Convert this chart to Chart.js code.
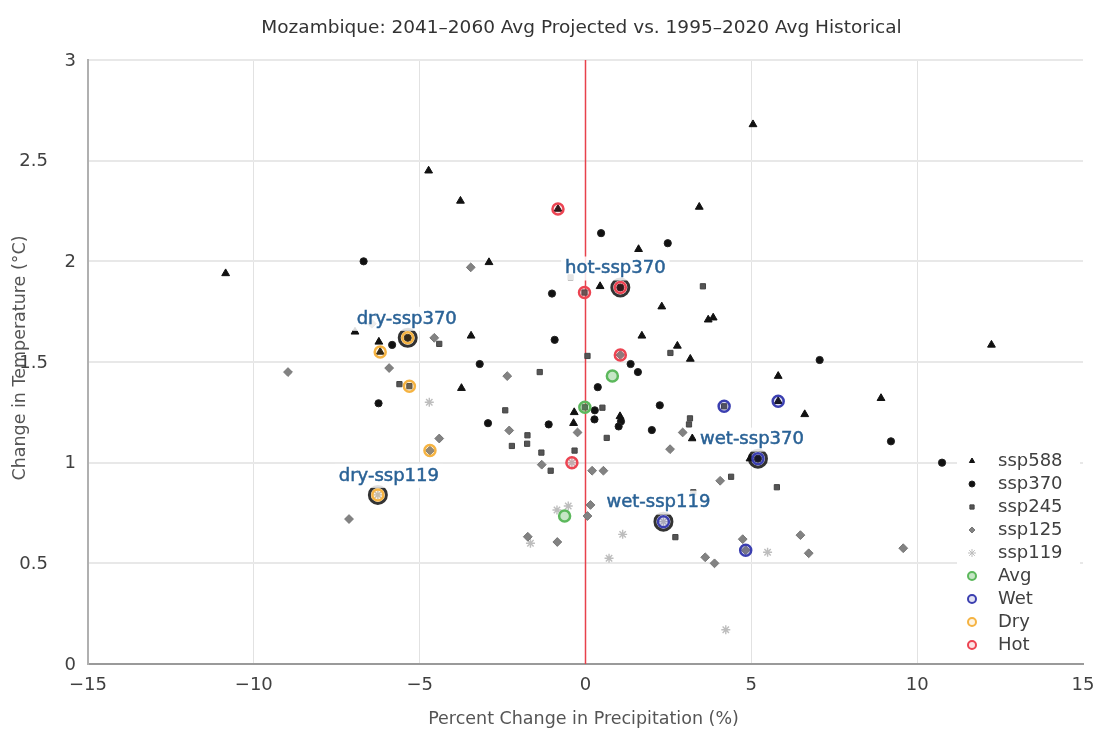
<!DOCTYPE html>
<html><head><meta charset="utf-8">
<script src="https://cdn.jsdelivr.net/npm/chart.js@4.4.0/dist/chart.umd.min.js"></script>
<style>html,body{margin:0;padding:0;background:#fff;overflow:hidden}#wrap{width:1099px;height:729px;position:relative}canvas{display:block}</style>
</head><body><div id="wrap"><canvas id="c" width="1099" height="729"></canvas></div>
<script>
const titleText = 'Mozambique: 2041–2060 Avg Projected vs. 1995–2020 Avg Historical';
const xAxisTitle = 'Percent Change in Precipitation (%)';
const yAxisTitle = 'Change in Temperature (°C)';
const xTickValues = [-15, -10, -5, 0, 5, 10, 15];
const xTickLabels = ['−15', '−10', '−5', '0', '5', '10', '15'];
const yTickValues = [0, 0.5, 1, 1.5, 2, 2.5, 3];
const yTickLabels = ['0', '0.5', '1', '1.5', '2', '2.5', '3'];
const legendLabels = ['ssp588', 'ssp370', 'ssp245', 'ssp125', 'ssp119', 'Avg', 'Wet', 'Dry', 'Hot'];

// model points [precip %, temp °C]
const ssp588 = [[-10.85,1.94],[-4.73,2.45],[-3.77,2.30],[-0.83,2.26],[-2.91,1.995],[-6.95,1.65],[-6.23,1.60],[-6.19,1.55],[-3.45,1.63],[-3.74,1.37],[-0.34,1.25],[-0.36,1.196],[5.05,2.68],[3.43,2.27],[1.60,2.06],[0.44,1.876],[2.30,1.775],[3.70,1.71],[3.85,1.72],[1.70,1.63],[2.77,1.58],[3.16,1.515],[5.81,1.43],[12.24,1.585],[5.81,1.305],[8.91,1.32],[6.61,1.24],[1.04,1.23],[3.22,1.12],[4.96,1.02]];
const ssp370 = [[-6.69,2.00],[-1.01,1.84],[-5.83,1.585],[-5.36,1.62],[-0.93,1.61],[-3.19,1.49],[-6.24,1.295],[-2.94,1.196],[-1.11,1.19],[0.28,1.26],[0.47,2.14],[2.48,2.09],[1.05,1.87],[1.36,1.49],[1.58,1.45],[7.06,1.51],[0.37,1.375],[2.24,1.285],[9.21,1.106],[10.75,1.0],[1.07,1.205],[1.00,1.18],[2.0,1.162],[5.20,1.02],[0.27,1.215]];
const ssp245 = [[-0.45,1.92],[-0.03,1.845],[-4.41,1.59],[0.06,1.53],[-1.38,1.45],[-5.61,1.39],[-5.31,1.38],[-2.42,1.26],[-1.75,1.136],[-2.22,1.083],[-1.76,1.094],[-1.33,1.05],[-1.05,0.96],[-0.33,1.06],[-0.02,1.275],[3.54,1.876],[2.56,1.545],[0.51,1.273],[0.64,1.123],[3.15,1.22],[3.12,1.19],[4.18,1.28],[4.39,0.93],[5.77,0.878],[3.25,0.853],[2.71,0.63]];
const ssp125 = [[-3.46,1.97],[-6.44,1.69],[-4.56,1.62],[-8.97,1.45],[-5.92,1.47],[-2.36,1.43],[-4.41,1.12],[-4.69,1.06],[-2.30,1.16],[-1.32,0.99],[-0.24,1.15],[0.20,0.96],[0.54,0.96],[-7.13,0.72],[0.15,0.79],[0.06,0.735],[-1.74,0.632],[-0.85,0.606],[2.93,1.15],[2.55,1.067],[4.06,0.91],[4.74,0.62],[4.83,0.565],[3.61,0.53],[3.89,0.50],[6.48,0.64],[6.73,0.55],[9.58,0.575],[1.05,1.535]];
const ssp119 = [[-4.71,1.30],[-6.26,0.84],[-0.86,0.765],[-0.52,0.785],[-1.66,0.60],[1.12,0.644],[0.71,0.525],[2.35,0.707],[5.49,0.555],[4.23,0.17],[-0.41,1.00]];

// selected scenario points
const avgPts = [[-0.02,1.275],[0.81,1.43],[-0.63,0.735]];
const wetPts = [[4.18,1.28],[5.81,1.305],[5.20,1.02],[2.35,0.707],[4.83,0.565]];
const dryPts = [[-6.19,1.55],[-5.36,1.62],[-5.31,1.38],[-4.69,1.06],[-6.26,0.84]];
const hotPts = [[-0.83,2.26],[-0.03,1.845],[1.05,1.87],[1.05,1.535],[-0.41,1.00]];

// labelled points
const labelNames = ['hot-ssp370', 'dry-ssp370', 'dry-ssp119', 'wet-ssp370', 'wet-ssp119'];
const labelX = [1.05, -5.36, -6.26, 5.20, 2.35];
const labelY = [1.87, 1.62, 0.84, 1.02, 0.707];

const xy = a => a.map(p => ({x: p[0], y: p[1]}));
const labelPts = labelX.map((x, i) => ({x: x, y: labelY[i]}));

const FONT = '"DejaVu Sans", sans-serif';
const styles = {
  ssp588: {pointStyle: 'triangle', pointRadius: 4.5, backgroundColor: '#111', borderColor: '#111', borderWidth: 1},
  ssp370: {pointStyle: 'circle', pointRadius: 3.6, backgroundColor: '#111', borderColor: '#222', borderWidth: 1},
  ssp245: {pointStyle: 'rect', pointRadius: 3.7, backgroundColor: '#555', borderColor: '#444', borderWidth: 1},
  ssp125: {pointStyle: 'rectRot', pointRadius: 4.4, backgroundColor: '#828282', borderColor: '#777', borderWidth: 1},
  ssp119: {pointStyle: 'star', pointRadius: 4.5, backgroundColor: '#c0c0c0', borderColor: '#bdbdbd', borderWidth: 1.4},
  Avg: {pointStyle: 'circle', pointRadius: 5.5, backgroundColor: 'rgba(92,184,92,0.35)', borderColor: '#5cb85c', borderWidth: 2.5},
  Wet: {pointStyle: 'circle', pointRadius: 5.5, backgroundColor: 'rgba(59,63,176,0.15)', borderColor: '#3b3fb0', borderWidth: 2.5},
  Dry: {pointStyle: 'circle', pointRadius: 5.5, backgroundColor: 'rgba(245,179,66,0.15)', borderColor: '#f5b342', borderWidth: 2.5},
  Hot: {pointStyle: 'circle', pointRadius: 5.5, backgroundColor: 'rgba(236,68,82,0.15)', borderColor: '#ec4452', borderWidth: 2.5}
};
const seriesData = {ssp588, ssp370, ssp245, ssp125, ssp119, Avg: avgPts, Wet: wetPts, Dry: dryPts, Hot: hotPts};

const datasets = legendLabels.map(name => Object.assign({
  type: 'scatter', label: name, data: xy(seriesData[name]),
  order: name.startsWith('ssp') ? 10 : 5, pointHoverRadius: 0
}, styles[name]));
datasets.push({type: 'scatter', label: 'halo', data: labelPts, order: 7, pointStyle: 'circle', pointRadius: 8.5,
  backgroundColor: 'rgba(0,0,0,0)', borderColor: 'rgba(15,15,15,0.85)', borderWidth: 3});
datasets.push({type: 'line', label: 'zero', data: [{x: 0, y: 0}, {x: 0, y: 3}], order: 20,
  borderColor: '#e8414b', borderWidth: 1.5, pointRadius: 0, fill: false});

const labelDx = [-5, -1, 11, -6, -5];

const decor = {
  id: 'decor',
  beforeDraw(chart) {
    const c = chart.ctx; c.save(); c.fillStyle = '#fff'; c.fillRect(0, 0, chart.width, chart.height); c.restore();
  },
  afterDatasetsDraw(chart) {
    const c = chart.ctx, xs = chart.scales.x, ys = chart.scales.y;
    c.save();
    c.font = '18px ' + FONT; c.textAlign = 'center'; c.textBaseline = 'middle';
    labelNames.forEach((t, i) => {
      const px = xs.getPixelForValue(labelX[i]) + labelDx[i];
      const py = ys.getPixelForValue(labelY[i]) - 19;
      const w = c.measureText(t).width + 8;
      c.fillStyle = 'rgba(255,255,255,0.85)';
      c.fillRect(px - w / 2, py - 12, w, 24);
      c.fillStyle = '#2a6296'; c.strokeStyle = '#2a6296'; c.lineWidth = 0.5;
      c.fillText(t, px, py); c.strokeText(t, px, py);
    });
    c.restore();
  },
  afterDraw(chart) {
    const c = chart.ctx, a = chart.chartArea, ys = chart.scales.y;
    c.save();
    // title
    c.fillStyle = '#333'; c.font = '18.5px ' + FONT; c.textAlign = 'center'; c.textBaseline = 'middle';
    c.fillText(titleText, (a.left + a.right) / 2 - 4, 28);
    // axis titles
    c.fillStyle = '#555'; c.font = '17.5px ' + FONT;
    c.fillText(xAxisTitle, (a.left + a.right) / 2 - 2, 719);
    c.save(); c.translate(20, (a.top + a.bottom) / 2 - 4); c.rotate(-Math.PI / 2);
    c.fillText(yAxisTitle, 0, 0); c.restore();
    // y tick labels
    c.fillStyle = '#404040'; c.font = '18px ' + FONT; c.textAlign = 'right';
    yTickValues.forEach((v, i) => {
      const px = Number.isInteger(v) ? a.left - 12 : a.left - 40;
      c.fillText(yTickLabels[i], px, ys.getPixelForValue(v) + 1);
    });
    // legend
    const lx = a.right - 126, ly = a.bottom - 214;
    c.fillStyle = '#fff'; c.fillRect(lx, ly, 123, 208);
    legendLabels.forEach((name, i) => {
      const s = styles[name];
      const y = a.bottom - 203 + i * 23;
      const mx = a.right - 111;
      c.fillStyle = s.backgroundColor; c.strokeStyle = s.borderColor;
      const ring = !name.startsWith('ssp');
      c.lineWidth = ring ? 2 : 1;
      const r = ring ? 4 : (name === 'ssp119' ? 4 : 3);
      if (Chart.helpers && Chart.helpers.drawPoint) {
        Chart.helpers.drawPoint(c, {pointStyle: s.pointStyle, radius: r, rotation: 0, borderWidth: c.lineWidth}, mx, y);
      } else {
        c.beginPath(); c.arc(mx, y, r, 0, Math.PI * 2); c.fill(); c.stroke();
      }
      c.fillStyle = '#404040'; c.textAlign = 'left'; c.font = '18px ' + FONT;
      c.fillText(name, a.right - 85, y);
    });
    c.restore();
  }
};

new Chart(document.getElementById('c'), {
  type: 'scatter',
  data: {datasets},
  options: {
    responsive: false, animation: false, devicePixelRatio: 1,
    layout: {padding: {top: 60, right: 16, bottom: 0, left: 0}},
    plugins: {legend: {display: false}, tooltip: {enabled: false}, title: {display: false}},
    events: [],
    scales: {
      x: {
        type: 'linear', min: -15, max: 15,
        afterFit: s => { s.height = 65; s.paddingLeft = 0; s.paddingRight = 0; },
        ticks: {stepSize: 5, padding: 11, color: '#404040', font: {family: FONT, size: 18},
          callback: v => { const i = xTickValues.indexOf(v); return i >= 0 ? xTickLabels[i] : ''; }},
        grid: {drawTicks: false, lineWidth: 1,
          color: ctx => (ctx.tick && (ctx.tick.value === 0 || Math.abs(ctx.tick.value) === 15)) ? 'rgba(0,0,0,0)' : '#e2e2e2'},
        border: {display: true, color: '#9a9a9a', width: 2}
      },
      y: {
        type: 'linear', min: 0, max: 3,
        afterFit: s => { s.width = 88; s.paddingTop = 0; s.paddingBottom = 0; },
        ticks: {stepSize: 0.5, display: false},
        grid: {drawTicks: false, lineWidth: 2,
          color: ctx => (ctx.tick && ctx.tick.value === 0) ? 'rgba(0,0,0,0)' : '#e8e8e8'},
        border: {display: true, color: '#b0b0b0', width: 2}
      }
    }
  },
  plugins: [decor]
});
</script></body></html>
